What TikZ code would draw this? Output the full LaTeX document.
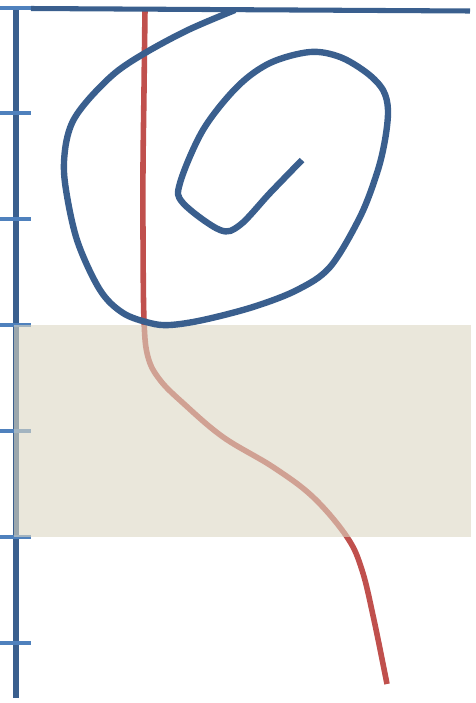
\documentclass[tikz,border=0pt]{standalone}
\usepackage{xcolor}
\usepackage{tikz}

\begin{document}
\begin{tikzpicture}[x=0.02646cm, y=-0.02646cm, line join=round]

% Colori
\definecolor{colAsse}{HTML}{3A5F8E}
\definecolor{colTacca}{HTML}{4F81BD}
\definecolor{colRosso}{HTML}{C0504D}
\definecolor{colFascia}{HTML}{DCD7C3}

% Riquadro dell'immagine
\useasboundingbox (0,0) rectangle (476,703);

% Asse verticale
\draw[colAsse, line width=4.2pt] (16,8) -- (16,698);

% Tacche
\draw[colTacca, line width=3.6pt] (0,8) -- (31,8);
\draw[colTacca, line width=3.6pt] (0,113) -- (31,113);
\draw[colTacca, line width=3.6pt] (0,219) -- (31,219);
\draw[colTacca, line width=3.6pt] (0,325) -- (31,325);
\draw[colTacca, line width=3.6pt] (0,431) -- (31,431);
\draw[colTacca, line width=3.6pt] (0,537) -- (31,537);
\draw[colTacca, line width=3.6pt] (0,643) -- (31,643);

% Curva rossa
\draw[colRosso, line width=4.2pt] plot[smooth, tension=0.6] coordinates {
  (145,10) (144,90) (143,167) (143,233) (144,320) (148,357) (160,380)
  (183,403) (223,437) (273,467) (313,497) (347,537) (362,570) (374,620)
  (387,684)};

% Fascia semitrasparente
\fill[colFascia, fill opacity=0.6] (14,325) rectangle (471,537);

% Linea orizzontale in alto
\draw[colAsse, line width=3.8pt] (31,8.5) -- (470,11);

% Spirale
\draw[colAsse, line width=4.8pt] plot[smooth, tension=0.55] coordinates {
  (235,10) (188,30) (145,53) (115,73) (88,100) (72,123) (65,150)
  (65,183) (77,240) (100,290) (123,313) (150,323) (170,325) (203,320)
  (253,307) (297,290) (330,267) (360,217) (377,173) (385,140) (388,110)
  (383,90) (367,73) (340,57) (310,52) (270,63) (237,87) (203,130)
  (180,183) (183,203) (220,230) (240,225) (270,193) (302,160)};

\end{tikzpicture}
\end{document}
